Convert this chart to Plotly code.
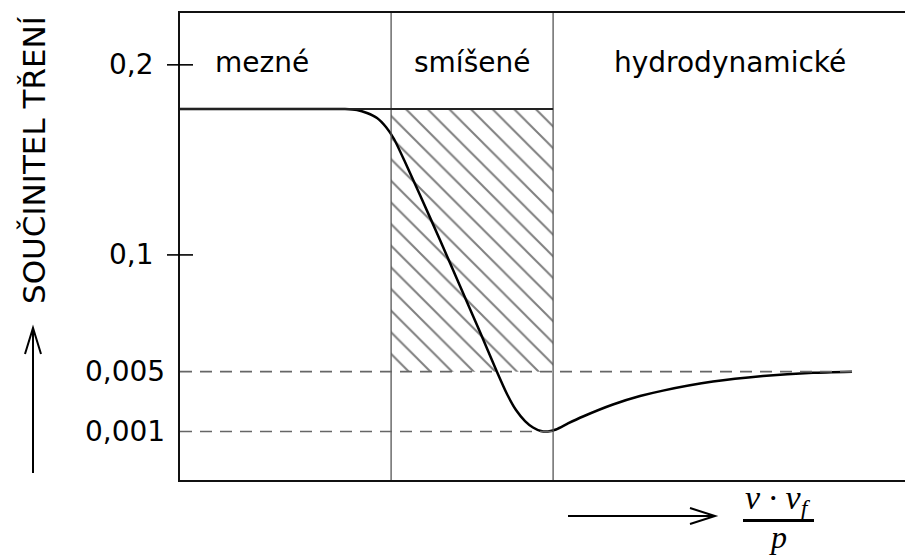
import plotly.graph_objects as go

# schematic axes: x 0..10, y 0..10 (not to scale, like the original drawing)
curve_x = [0, 1.2, 2.251, 2.415, 2.551, 2.688, 2.810, 2.920, 3.070, 3.274, 3.547, 3.820, 4.093,
           4.325, 4.461, 4.584, 4.707, 4.816, 4.925, 5.020, 5.130, 5.293, 5.498, 5.907, 6.276,
           6.589, 7.271, 7.954, 8.636, 9.168]
curve_y = [7.944, 7.944, 7.944, 7.923, 7.859, 7.752, 7.559, 7.302, 6.809, 6.103, 5.139, 4.154, 3.169,
           2.313, 1.842, 1.499, 1.263, 1.124, 1.049, 1.039, 1.081, 1.210, 1.360, 1.617, 1.797,
           1.914, 2.107, 2.225, 2.296, 2.319]

bounds = [2.88, 5.09]          # mezné | smíšené | hydrodynamické
top_level = 7.944              # header line / plateau
tick_vals = [8.89, 4.82, 2.32, 1.04]
tick_text = ['0,2', '0,1', '0,005', '0,001']
regions = ['mezné', 'smíšené', 'hydrodynamické']
region_x = [1.12, 3.98, 7.5]

FONT = 'DejaVu Sans'
# page body has an 8px margin, so the figure is 8px smaller than the window
W, H = 905, 548
L, R, T, B = 172, 0, 5, 76
pw, ph = W - L - R, H - T - B


def px(xp, yp):
    # window pixel position -> paper coords
    return (xp - 180) / pw, (480 - yp) / ph


fig = go.Figure()

# hatched mixed-friction zone
fig.add_trace(go.Scatter(
    x=[bounds[0], bounds[1], bounds[1], bounds[0], bounds[0]],
    y=[top_level, top_level, tick_vals[2], tick_vals[2], top_level],
    mode='none', fill='toself', fillcolor='white',
    fillpattern=dict(shape='\\', fgcolor='black', bgcolor='white', size=15.3, solidity=0.13),
    hoverinfo='skip', showlegend=False))

# Stribeck curve
fig.add_trace(go.Scatter(x=curve_x, y=curve_y, mode='lines',
                         line=dict(color='black', width=2.5, shape='spline', smoothing=0.5),
                         showlegend=False, hoverinfo='skip'))

shapes = []
for b in bounds:
    shapes.append(dict(type='line', xref='x', yref='y', x0=b, x1=b, y0=0, y1=10,
                       line=dict(color='#555', width=1.3)))
shapes.append(dict(type='line', xref='x', yref='y', x0=0, x1=bounds[1], y0=top_level, y1=top_level,
                   line=dict(color='#222', width=2)))
# dashed reference levels
shapes.append(dict(type='line', xref='x', yref='y', x0=0, x1=curve_x[-1], y0=tick_vals[2], y1=tick_vals[2],
                   line=dict(color='#666', width=1.6, dash='12px,8px')))
shapes.append(dict(type='line', xref='x', yref='y', x0=0, x1=bounds[1], y0=tick_vals[3], y1=tick_vals[3],
                   line=dict(color='#666', width=1.6, dash='12px,8px')))
# crossing ticks for 0,2 and 0,1
for v in tick_vals[:2]:
    shapes.append(dict(type='line', xref='paper', yref='y', xsizemode='pixel', xanchor=0, x0=-13, x1=13,
                       y0=v, y1=v, line=dict(color='black', width=1.6)))

# arrows
ax0, ay0 = px(33, 473)
ax1, ay1 = px(33, 328)
shapes.append(dict(type='line', xref='paper', yref='paper', x0=ax0, y0=ay0, x1=ax1, y1=ay1,
                   line=dict(color='black', width=2)))
c1, c2 = px(25, 354), px(41, 354)
shapes.append(dict(type='path', xref='paper', yref='paper',
                   path=f'M{c1[0]},{c1[1]} L{ax1},{ay1} L{c2[0]},{c2[1]}', line=dict(color='black', width=2)))
hx0, hy0 = px(568, 516)
hx1, hy1 = px(715, 516)
shapes.append(dict(type='line', xref='paper', yref='paper', x0=hx0, y0=hy0, x1=hx1, y1=hy1,
                   line=dict(color='black', width=2)))
c1, c2 = px(690, 508), px(690, 524)
shapes.append(dict(type='path', xref='paper', yref='paper',
                   path=f'M{c1[0]},{c1[1]} L{hx1},{hy1} L{c2[0]},{c2[1]}', line=dict(color='black', width=2)))
# fraction bar
f0, f1 = px(743, 520.5), px(814, 520.5)
shapes.append(dict(type='line', xref='paper', yref='paper', x0=f0[0], y0=f0[1], x1=f1[0], y1=f1[1],
                   line=dict(color='black', width=3)))

ann = []
for v, t, sh in zip(tick_vals, tick_text, [-24, -24, -13, -13]):
    ann.append(dict(x=0, xref='paper', y=v, yref='y', text=t, showarrow=False, xanchor='right',
                    yanchor='middle', xshift=sh, font=dict(family=FONT, size=28, color='black')))
for xr, t in zip(region_x, regions):
    ann.append(dict(x=xr, xref='x', y=8.95, yref='y', text=t, showarrow=False,
                    xanchor='center', yanchor='middle',
                    font=dict(family=FONT, size=28, color='black')))
tx, ty = px(34, 160)
ann.append(dict(x=tx, y=ty, xref='paper', yref='paper', text='SOUČINITEL TŘENÍ', textangle=-90,
                xanchor='center', yanchor='middle',
                showarrow=False, font=dict(family=FONT, size=31, color='black')))
nx, ny = px(778, 500)
ann.append(dict(x=nx, y=ny, xref='paper', yref='paper', text='<i>ν · v</i><sub><i>f</i></sub>',
                xanchor='center', yanchor='middle',
                showarrow=False, font=dict(family='Liberation Serif', size=34, color='black')))
dx, dy = px(778, 556)
ann.append(dict(x=dx, y=dy, xref='paper', yref='paper', text='<i>p</i>',
                xanchor='center', yanchor='bottom', borderpad=0,
                showarrow=False, font=dict(family='Liberation Serif', size=32, color='black')))

fig.update_layout(
    width=W, height=H, margin=dict(l=L, r=R, t=T, b=B),
    plot_bgcolor='white', paper_bgcolor='white',
    shapes=shapes, annotations=ann,
    xaxis=dict(range=[0, 10], showline=True, mirror=True, linecolor='#111', linewidth=2,
               showgrid=False, zeroline=False, showticklabels=False, ticks=''),
    yaxis=dict(range=[0, 10], showline=True, linecolor='#111', linewidth=2,
               showgrid=False, zeroline=False, showticklabels=False, ticks=''),
)

fig.write_html("out.html")
